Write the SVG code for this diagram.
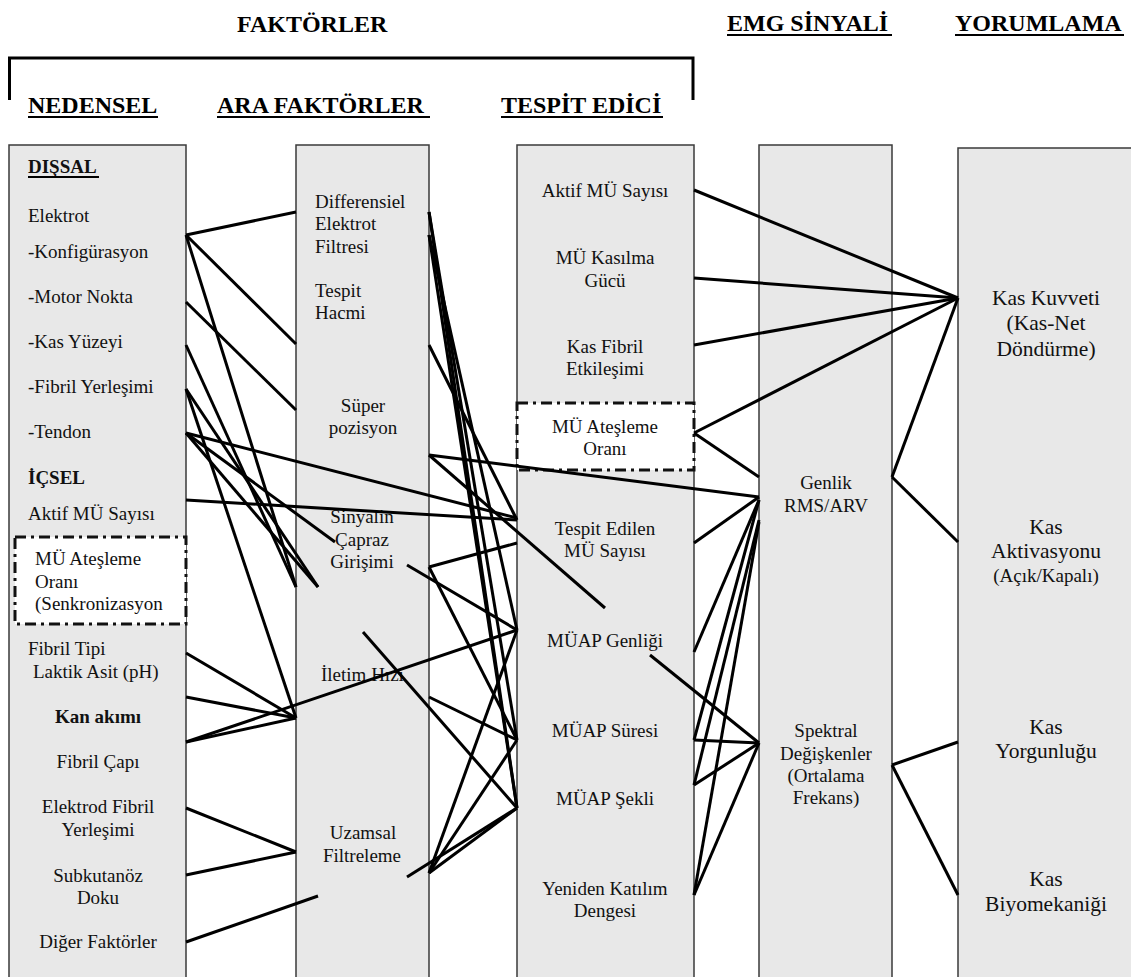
<svg xmlns="http://www.w3.org/2000/svg" width="1131" height="977" viewBox="0 0 1131 977">
<style>
.box{fill:#e8e8e8;stroke:#3a3a3a;stroke-width:1.5}
.dash{fill:#fff;stroke:#111;stroke-width:3;stroke-dasharray:11 5 3 5}
.t{font-family:"Liberation Serif","Times New Roman",serif;font-size:19px;fill:#111}
.c{text-anchor:middle}
.b{font-weight:bold}
.big{font-size:21.5px}
.h{font-family:"Liberation Serif","Times New Roman",serif;font-size:24px;font-weight:bold;fill:#000}
.ul{stroke:#000;stroke-width:2}
.ln{stroke:#000;stroke-width:3;fill:none}
</style>
<rect width="1131" height="977" fill="#fff"/>
<g id="headers">
<text class="h" x="237" y="32">FAKTÖRLER</text>
<path d="M9.5,100 V58 H693 V100" fill="none" stroke="#000" stroke-width="3"/>
<text class="h" x="28" y="113">NEDENSEL</text><line class="ul" x1="28" y1="117" x2="158" y2="117"/>
<text class="h" x="217" y="113">ARA FAKTÖRLER</text><line class="ul" x1="217" y1="117" x2="430" y2="117"/>
<text class="h" x="501" y="113">TESPİT EDİCİ</text><line class="ul" x1="501" y1="117" x2="663" y2="117"/>
<text class="h" x="727" y="31">EMG SİNYALİ</text><line class="ul" x1="727" y1="35" x2="892" y2="35"/>
<text class="h" x="955" y="31">YORUMLAMA</text><line class="ul" x1="955" y1="35" x2="1124" y2="35"/>
</g>
<g id="col-nedensel">
<rect class="box" x="9" y="145" width="177" height="840"/>
<text class="t b" x="28" y="173">DIŞSAL</text><line class="ul" x1="28" y1="177" x2="99" y2="177"/>
<text class="t" x="28" y="222">Elektrot</text>
<text class="t" x="28" y="258">-Konfigürasyon</text>
<text class="t" x="28" y="303">-Motor Nokta</text>
<text class="t" x="28" y="348">-Kas Yüzeyi</text>
<text class="t" x="28" y="393">-Fibril Yerleşimi</text>
<text class="t" x="28" y="438">-Tendon</text>
<text class="t b" x="28" y="484">İÇSEL</text>
<text class="t" x="28" y="520">Aktif MÜ Sayısı</text>
<g id="n-mu-atesleme-1">
<rect class="dash" x="15" y="537" width="171" height="87"/>
<text class="t" x="35" y="565">MÜ Ateşleme</text>
<text class="t" x="35" y="588">Oranı</text>
<text class="t" x="35" y="610">(Senkronizasyon</text>
</g>
<text class="t" x="28" y="655">Fibril Tipi</text>
<text class="t" x="33" y="678">Laktik Asit (pH)</text>
<text class="t b c" x="98" y="723">Kan akımı</text>
<text class="t c" x="98" y="768">Fibril Çapı</text>
<text class="t c" x="98" y="813">Elektrod Fibril</text>
<text class="t c" x="98" y="836">Yerleşimi</text>
<text class="t c" x="98" y="882">Subkutanöz</text>
<text class="t c" x="98" y="904">Doku</text>
<text class="t c" x="98" y="948">Diğer Faktörler</text>
</g>
<g id="col-ara">
<rect class="box" x="296" y="145" width="133" height="840"/>
<text class="t" x="315" y="208">Differensiel</text>
<text class="t" x="315" y="230">Elektrot</text>
<text class="t" x="315" y="253">Filtresi</text>
<text class="t" x="315" y="297">Tespit</text>
<text class="t" x="315" y="319">Hacmi</text>
<text class="t c" x="363" y="412">Süper</text>
<text class="t c" x="363" y="434">pozisyon</text>
<text class="t c" x="362" y="523">Sinyalin</text>
<text class="t c" x="362" y="546">Çapraz</text>
<text class="t c" x="362" y="568">Girişimi</text>
<text class="t" x="321" y="681">İletim Hızı</text>
<text class="t c" x="363" y="839">Uzamsal</text>
<text class="t c" x="362" y="862">Filtreleme</text>
</g>
<g id="col-tespit">
<rect class="box" x="517" y="145" width="177" height="840"/>
<text class="t c" x="605" y="197">Aktif MÜ Sayısı</text>
<text class="t c" x="605" y="264">MÜ Kasılma</text>
<text class="t c" x="605" y="287">Gücü</text>
<text class="t c" x="605" y="353">Kas Fibril</text>
<text class="t c" x="605" y="375">Etkileşimi</text>
<g id="n-mu-atesleme-2">
<rect class="dash" x="517" y="403" width="177" height="67"/>
<text class="t c" x="605" y="433">MÜ Ateşleme</text>
<text class="t c" x="605" y="455">Oranı</text>
</g>
<text class="t c" x="605" y="535">Tespit Edilen</text>
<text class="t c" x="605" y="557">MÜ Sayısı</text>
<text class="t c" x="605" y="647">MÜAP Genliği</text>
<text class="t c" x="605" y="737">MÜAP Süresi</text>
<text class="t c" x="605" y="805">MÜAP Şekli</text>
<text class="t c" x="605" y="895">Yeniden Katılım</text>
<text class="t c" x="605" y="917">Dengesi</text>
</g>
<g id="col-emg">
<rect class="box" x="759" y="145" width="133" height="840"/>
<text class="t c" x="826" y="489">Genlik</text>
<text class="t c" x="826" y="512">RMS/ARV</text>
<text class="t c" x="826" y="737">Spektral</text>
<text class="t c" x="826" y="760">Değişkenler</text>
<text class="t c" x="826" y="782">(Ortalama</text>
<text class="t c" x="826" y="804">Frekans)</text>
</g>
<g id="col-yorum">
<rect class="box" x="958" y="148" width="190" height="840"/>
<text class="t c big" x="1046" y="305">Kas Kuvveti</text>
<text class="t c big" x="1046" y="330">(Kas-Net</text>
<text class="t c big" x="1046" y="356">Döndürme)</text>
<text class="t c big" x="1046" y="534">Kas</text>
<text class="t c big" x="1046" y="558">Aktivasyonu</text>
<text class="t c" x="1046" y="582">(Açık/Kapalı)</text>
<text class="t c big" x="1046" y="734">Kas</text>
<text class="t c big" x="1046" y="758">Yorgunluğu</text>
<text class="t c big" x="1046" y="886">Kas</text>
<text class="t c big" x="1046" y="911">Biyomekaniği</text>
</g>
<g id="connectors" class="ln">
<line x1="186" y1="235" x2="296" y2="212"/>
<line x1="186" y1="235" x2="296" y2="344"/>
<line x1="186" y1="235" x2="296" y2="587"/>
<line x1="186" y1="302" x2="296" y2="410"/>
<line x1="186" y1="345" x2="296" y2="587"/>
<line x1="186" y1="389" x2="296" y2="718"/>
<line x1="186" y1="389" x2="318" y2="587"/>
<line x1="186" y1="433" x2="318" y2="587"/>
<line x1="186" y1="433" x2="335" y2="542"/>
<line x1="186" y1="433" x2="517" y2="518"/>
<line x1="186" y1="500" x2="517" y2="520"/>
<line x1="186" y1="653" x2="296" y2="718"/>
<line x1="186" y1="697" x2="296" y2="718"/>
<line x1="186" y1="742" x2="296" y2="718"/>
<line x1="186" y1="742" x2="517" y2="630"/>
<line x1="186" y1="808" x2="296" y2="852"/>
<line x1="186" y1="875" x2="296" y2="852"/>
<line x1="186" y1="942" x2="318" y2="896"/>
<line x1="429" y1="212" x2="517" y2="808"/>
<line x1="429" y1="235" x2="517" y2="808"/>
<line x1="429" y1="212" x2="517" y2="740"/>
<line x1="429" y1="235" x2="517" y2="630"/>
<line x1="429" y1="345" x2="517" y2="520"/>
<line x1="429" y1="455" x2="759" y2="497"/>
<line x1="429" y1="455" x2="605" y2="608"/>
<line x1="429" y1="567" x2="517" y2="543"/>
<line x1="407" y1="565" x2="517" y2="630"/>
<line x1="429" y1="567" x2="517" y2="740"/>
<line x1="363" y1="632" x2="517" y2="808"/>
<line x1="429" y1="697" x2="517" y2="740"/>
<line x1="429" y1="873" x2="517" y2="630"/>
<line x1="429" y1="873" x2="517" y2="740"/>
<line x1="429" y1="873" x2="517" y2="808"/>
<line x1="407" y1="877" x2="517" y2="808"/>
<line x1="694" y1="543" x2="759" y2="497"/>
<line x1="694" y1="652" x2="759" y2="500"/>
<line x1="694" y1="740" x2="759" y2="500"/>
<line x1="694" y1="785" x2="759" y2="520"/>
<line x1="694" y1="895" x2="759" y2="522"/>
<line x1="694" y1="740" x2="759" y2="743"/>
<line x1="694" y1="785" x2="759" y2="743"/>
<line x1="694" y1="895" x2="759" y2="743"/>
<line x1="650" y1="655" x2="759" y2="743"/>
<line x1="694" y1="433" x2="759" y2="477"/>
<line x1="694" y1="190" x2="958" y2="298"/>
<line x1="694" y1="278" x2="958" y2="298"/>
<line x1="694" y1="345" x2="958" y2="298"/>
<line x1="694" y1="433" x2="958" y2="298"/>
<line x1="892" y1="477" x2="958" y2="298"/>
<line x1="892" y1="477" x2="958" y2="542"/>
<line x1="892" y1="765" x2="958" y2="742"/>
<line x1="892" y1="765" x2="958" y2="895"/>
</g>
</svg>
